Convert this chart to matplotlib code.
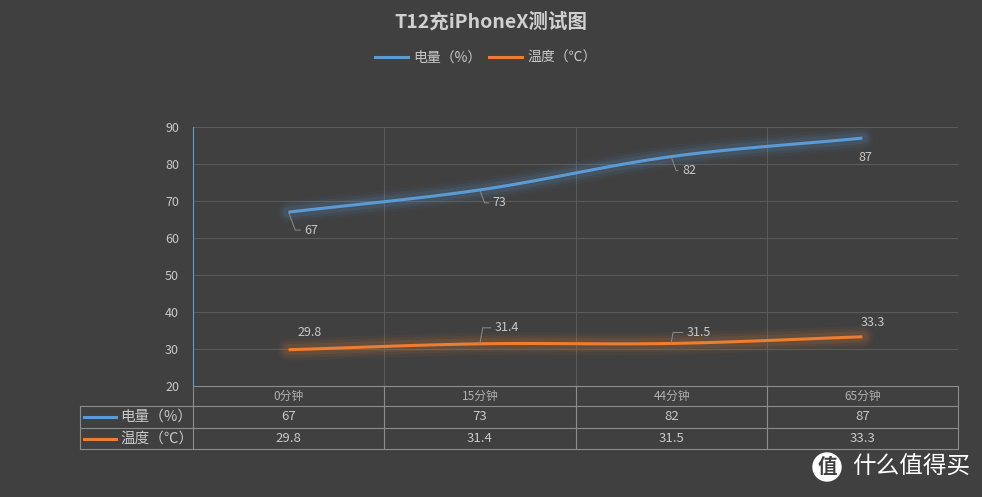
import matplotlib.pyplot as plt
import numpy as np
from matplotlib.lines import Line2D
from matplotlib.patches import Ellipse

plt.rcParams['font.family'] = ['Noto Sans CJK SC', 'DejaVu Sans']

# data
categories = ["0分钟", "15分钟", "44分钟", "65分钟"]
battery = [67, 73, 82, 87]
temperature = [29.8, 31.4, 31.5, 33.3]
series_names = ["电量（%）", "温度（℃）"]
yticks = [20, 30, 40, 50, 60, 70, 80, 90]

BG = "#404040"
GRID = "#5a5a5a"
TABLE = "#8c8c8c"
TXT = "#c8c8c8"
BLUE = "#5b9bd5"
ORANGE = "#ed7d31"

W, H = 982, 497


def fx(px):
    return px / W


def fy(py):
    return 1 - py / H


def smooth(xs, ys, n=40, t=0.5):
    # cardinal spline through the points, like the office "smoothed line"
    xs, ys = np.asarray(xs, float), np.asarray(ys, float)
    px = np.concatenate([[2 * xs[0] - xs[1]], xs, [2 * xs[-1] - xs[-2]]])
    py = np.concatenate([[2 * ys[0] - ys[1]], ys, [2 * ys[-1] - ys[-2]]])
    outx, outy = [], []
    for i in range(1, len(px) - 2):
        s = np.linspace(0, 1, n)
        for p, out in ((px, outx), (py, outy)):
            m1 = t * (p[i + 1] - p[i - 1])
            m2 = t * (p[i + 2] - p[i])
            h00 = 2 * s**3 - 3 * s**2 + 1
            h10 = s**3 - 2 * s**2 + s
            h01 = -2 * s**3 + 3 * s**2
            h11 = s**3 - s**2
            out.extend(h00 * p[i] + h10 * m1 + h01 * p[i + 1] + h11 * m2)
    return np.array(outx), np.array(outy)


fig = plt.figure(figsize=(W / 100, H / 100), dpi=100, facecolor=BG)
ax = fig.add_axes([fx(193), fy(386), fx(958) - fx(193), fy(127) - fy(386)])
ax.set_facecolor(BG)

x = np.arange(len(categories))
ax.set_xlim(-0.5, len(categories) - 0.5)
ax.set_ylim(20, 90)
ax.set_yticks(yticks)
ax.set_yticklabels([str(v) for v in yticks], color=TXT, fontsize=9)
ax.tick_params(axis="y", length=0, pad=10)
ax.set_xticks([])
for v in yticks[1:]:
    ax.axhline(v, color=GRID, lw=0.8, zorder=0)
for b in np.arange(0.5, len(categories), 1):
    ax.axvline(b, color=GRID, lw=0.8, zorder=0)
for s in ["top", "right", "bottom"]:
    ax.spines[s].set_visible(False)
ax.spines["left"].set_color(BLUE)
ax.spines["left"].set_linewidth(0.8)

for vals, col in ((battery, BLUE), (temperature, ORANGE)):
    sx, sy = smooth(x, vals)
    for lw, a in ((16, 0.05), (12, 0.07), (8, 0.12)):
        ax.plot(sx, sy, color=col, lw=lw, alpha=a, solid_capstyle="round", zorder=2)
    ax.plot(sx, sy, color=col, lw=2.2, solid_capstyle="butt", zorder=3)

# data labels (offsets in pixels from the point)
lab_kw = dict(textcoords="offset pixels", color=TXT, fontsize=9, va="center", ha="left",
              arrowprops=dict(arrowstyle="-", color="#8c8c8c", lw=0.7,
                              connectionstyle="angle,angleA=0,angleB=-70,rad=0",
                              shrinkA=1, shrinkB=0))
batt_off = [(16, -18), (13, -13), (11, -14), (None, None)]
temp_off = [(9, 17), (15, 16), (16, 11), (None, None)]
for i, (v, o) in enumerate(zip(battery, batt_off)):
    if o[0] is None:
        ax.annotate(str(v), (x[i], v), xytext=(3, -19), textcoords="offset pixels",
                    color=TXT, fontsize=9, va="center", ha="center")
    else:
        ax.annotate(str(v), (x[i], v), xytext=o, **lab_kw)
for i, (v, o) in enumerate(zip(temperature, temp_off)):
    if o[0] is None:
        ax.annotate(str(v), (x[i], v), xytext=(10, 14), textcoords="offset pixels",
                    color=TXT, fontsize=9, va="center", ha="center")
    elif i == 0:
        ax.annotate(str(v), (x[i], v), xytext=o, textcoords="offset pixels",
                    color=TXT, fontsize=9, va="center", ha="left")
    else:
        kw = dict(lab_kw)
        kw["arrowprops"] = dict(arrowstyle="-", color="#8c8c8c", lw=0.7,
                                connectionstyle="angle,angleA=0,angleB=80,rad=0",
                                shrinkA=1, shrinkB=0)
        ax.annotate(str(v), (x[i], v), xytext=o, **kw)

# data table under the chart
cols = [193, 384, 576, 767, 958]
rows = [386, 406, 428, 449]
tl = dict(color=TABLE, lw=0.8, transform=fig.transFigure)
fig.add_artist(Line2D([fx(193), fx(958)], [fy(386), fy(386)], **tl))
for r in rows[1:]:
    fig.add_artist(Line2D([fx(80), fx(958)], [fy(r), fy(r)], **tl))
for c in cols:
    fig.add_artist(Line2D([fx(c), fx(c)], [fy(386), fy(449)], **tl))
fig.add_artist(Line2D([fx(80), fx(80)], [fy(406), fy(449)], **tl))

for i, cat in enumerate(categories):
    cx = (cols[i] + cols[i + 1]) / 2
    fig.text(fx(cx), fy(396), cat, color="#b0b0b0", fontsize=8.5, ha="center", va="center")
    fig.text(fx(cx), fy(417), str(battery[i]), color=TXT, fontsize=9.5, ha="center", va="center")
    fig.text(fx(cx), fy(438.5), str(temperature[i]), color=TXT, fontsize=9.5, ha="center", va="center")

for name, col, ry in ((series_names[0], BLUE, 417), (series_names[1], ORANGE, 438.5)):
    fig.add_artist(Line2D([fx(84), fx(116)], [fy(ry), fy(ry)], color=col, lw=2.2,
                          transform=fig.transFigure))
    fig.text(fx(120), fy(ry), name, color=TXT, fontsize=10.5, ha="left", va="center")

# title and legend
fig.text(fx(491), fy(22), "T12充iPhoneX测试图", color="#d0d0d0", fontsize=14,
         fontweight="bold", ha="center", va="center")
handles = [Line2D([], [], color=BLUE, lw=2.2), Line2D([], [], color=ORANGE, lw=2.2)]
leg = fig.legend(handles, series_names, loc="center", bbox_to_anchor=(fx(486), fy(58)),
                 ncol=2, frameon=False, fontsize=10, handlelength=2.4,
                 columnspacing=0.5, handletextpad=0.4)
for t in leg.get_texts():
    t.set_color(TXT)

# watermark
fig.add_artist(Ellipse((fx(827), fy(467)), 28 / W, 28 / H, transform=fig.transFigure,
                       color="white", zorder=5))
fig.text(fx(827), fy(467), "值", color=BG, fontsize=14, fontweight="bold",
         ha="center", va="center", zorder=6)
fig.text(fx(852), fy(467), "什么值得买", color="white", fontsize=17,
         ha="left", va="center")

fig.savefig("out.png", dpi=100, facecolor=BG)
